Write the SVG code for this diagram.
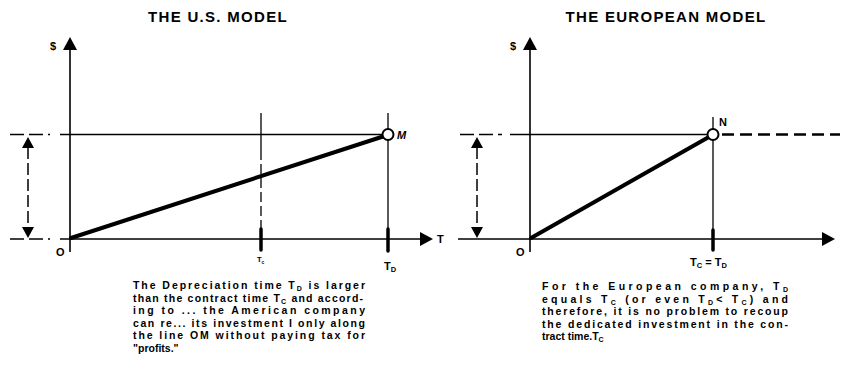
<svg xmlns="http://www.w3.org/2000/svg" width="841" height="373" viewBox="0 0 841 373">
<defs>
<style>
text{font-family:"Liberation Sans",Arial,sans-serif;fill:#000;font-weight:bold}
.title{font-size:15px;text-anchor:middle;letter-spacing:1.3px}
.para{font-size:10.5px}
.lbl{font-size:11px}
.sub{font-size:7.5px}
.ax{stroke:#000;stroke-width:1.6;fill:none}
.thin{stroke:#000;stroke-width:1.3;fill:none}
.dash{stroke:#000;stroke-width:1.3;fill:none;stroke-dasharray:14 5}
.dar{stroke:#000;stroke-width:1.5;fill:none;stroke-dasharray:12 4}
.thick{stroke:#000;stroke-width:4;fill:none;stroke-linecap:round}
.tick{stroke:#000;stroke-width:3.5;fill:none;stroke-linecap:round}
.pt{fill:#fff;stroke:#000;stroke-width:2}
.hd{fill:#000}
</style>
</defs>
<rect width="841" height="373" fill="#fff"/>

<g id="us-model">
<text class="title" x="218" y="22">THE U.S. MODEL</text>
<g id="us-axes">
<line class="ax" x1="70" y1="252" x2="70" y2="48"/>
<polygon class="hd" points="70,37 63,50 77,50"/>
<text class="lbl" x="50" y="50">$</text>
<line class="ax" x1="60" y1="239" x2="422" y2="239"/>
<polygon class="hd" points="433,239 420,232 420,246"/>
<text class="lbl" x="437" y="243">T</text>
<text class="lbl" x="56" y="256">O</text>
</g>
<g id="us-guides">
<line class="dash" x1="10" y1="134.5" x2="50" y2="134.5"/>
<line class="thin" x1="60" y1="134.5" x2="383" y2="134.5"/>
<line class="dash" x1="10" y1="239" x2="50" y2="239"/>
<line class="dar" x1="28" y1="147" x2="28" y2="227"/>
<polygon class="hd" points="28,137 22,148 34,148"/>
<polygon class="hd" points="28,238 22,227 34,227"/>
<line class="thin" x1="261" y1="113" x2="261" y2="150"/>
<line class="thin" x1="261" y1="150" x2="261" y2="235" stroke-dasharray="10 4"/>
<line class="tick" x1="261" y1="229" x2="261" y2="250"/>
<line class="thin" x1="388" y1="113" x2="388" y2="250"/>
<line class="tick" x1="388" y1="229" x2="388" y2="251"/>
</g>
<line class="thick" x1="71" y1="238" x2="383" y2="136.5"/>
<circle class="pt" cx="388" cy="134.5" r="5.5"/>
<text class="lbl" x="397" y="139" font-style="italic">M</text>
<text class="sub" x="257" y="262">T<tspan font-size="5" dy="2">c</tspan></text>
<text class="lbl" x="384" y="270">T<tspan class="sub" dy="2">D</tspan></text>
</g>

<g id="us-caption">
<text class="para" x="133" y="289" textLength="232" lengthAdjust="spacing">The Depreciation time T<tspan font-size="7" dy="2">D</tspan><tspan dy="-2"> is larger</tspan></text>
<text class="para" x="133" y="301.5" textLength="230" lengthAdjust="spacing">than the contract time T<tspan font-size="7" dy="2">C</tspan><tspan dy="-2"> and accord-</tspan></text>
<text class="para" x="133" y="314" textLength="232" lengthAdjust="spacing">ing to ... the American company</text>
<text class="para" x="133" y="326.5" textLength="232" lengthAdjust="spacing">can re...  its investment I only along</text>
<text class="para" x="133" y="339" textLength="232" lengthAdjust="spacing">the line OM without paying tax for</text>
<text class="para" x="133" y="351.5">"profits."</text>
</g>

<g id="eu-model">
<text class="title" x="666" y="22" letter-spacing="1.8">THE EUROPEAN MODEL</text>
<g id="eu-axes">
<line class="ax" x1="530" y1="252" x2="530" y2="48"/>
<polygon class="hd" points="530,37 523,50 537,50"/>
<text class="lbl" x="510" y="50">$</text>
<line class="ax" x1="458" y1="239" x2="824" y2="239"/>
<polygon class="hd" points="835,239 822,232 822,246"/>
<text class="lbl" x="516" y="256">O</text>
</g>
<g id="eu-guides">
<line class="dash" x1="460" y1="134.5" x2="502" y2="134.5"/>
<line class="thin" x1="510" y1="134.5" x2="708" y2="134.5"/>
<line x1="722" y1="134.5" x2="840" y2="134.5" stroke="#000" stroke-width="2.5" stroke-dasharray="12 6"/>
<line class="dar" x1="477" y1="147" x2="477" y2="227"/>
<polygon class="hd" points="477,137 471,148 483,148"/>
<polygon class="hd" points="477,238 471,227 483,227"/>
<line class="thin" x1="713" y1="117" x2="713" y2="250"/>
<line class="tick" x1="713" y1="230" x2="713" y2="250"/>
</g>
<line class="thick" x1="531" y1="238" x2="708" y2="137.5"/>
<circle class="pt" cx="713" cy="134.5" r="5.5"/>
<text class="lbl" x="719" y="126">N</text>
<text class="lbl" x="690" y="266">T<tspan class="sub" dy="2">C</tspan><tspan dy="-2"> = T</tspan><tspan class="sub" dy="2">D</tspan></text>
</g>

<g id="eu-caption">
<text class="para" x="542" y="290" textLength="246" lengthAdjust="spacing">For the European company, T<tspan font-size="7" dy="2">D</tspan></text>
<text class="para" x="542" y="302.5" textLength="246" lengthAdjust="spacing">equals T<tspan font-size="7" dy="2">C</tspan><tspan dy="-2"> (or even T</tspan><tspan font-size="7" dy="2">D</tspan><tspan dy="-2">&lt; T</tspan><tspan font-size="7" dy="2">C</tspan><tspan dy="-2">) and</tspan></text>
<text class="para" x="542" y="315" textLength="246" lengthAdjust="spacing">therefore, it is no problem to recoup</text>
<text class="para" x="542" y="327.5" textLength="246" lengthAdjust="spacing">the dedicated investment in the con-</text>
<text class="para" x="542" y="340">tract time.T<tspan font-size="7" dy="2">C</tspan></text>
</g>
</svg>
